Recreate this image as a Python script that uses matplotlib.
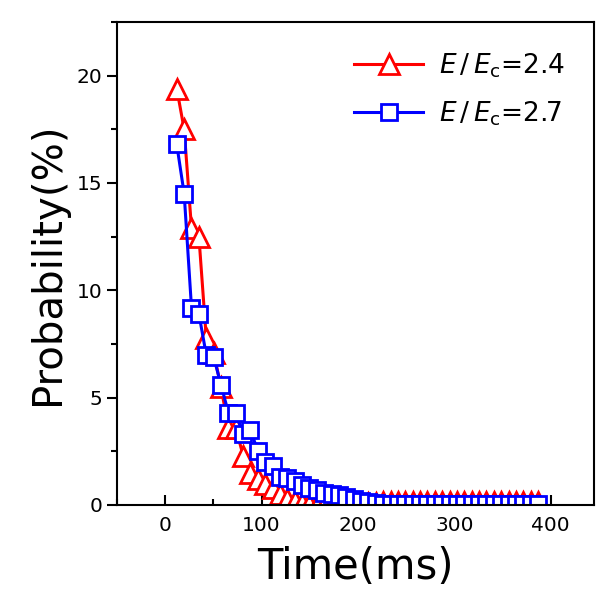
import matplotlib
matplotlib.use("Agg")
import matplotlib.pyplot as plt
from matplotlib.ticker import MultipleLocator

# time bins (ms)
times = [12.0, 19.7, 27.3, 35.0, 42.6, 50.3, 57.9, 65.6, 73.2, 80.9,
         88.5, 96.2, 103.8, 111.5, 119.1, 126.8, 134.4, 142.1, 149.7, 157.4,
         165.0, 172.7, 180.3, 188.0, 195.6, 203.3, 210.9, 218.6, 226.2, 233.9,
         241.5, 249.2, 256.8, 264.5, 272.1, 279.8, 287.4, 295.1, 302.7, 310.4,
         318.0, 325.7, 333.3, 341.0, 348.6, 356.3, 363.9, 371.6, 379.2, 386.9]

# E/Ec = 2.4
prob_24 = [19.4, 17.5, 12.9, 12.5, 7.8, 7.1, 5.5, 3.6, 3.6, 2.3,
           1.5, 1.2, 1.0, 0.8, 0.5, 0.3, 0.2, 0.1, 0.05, 0.0,
           0.0, 0.0, 0.0, 0.0, 0.05, 0.05, 0.1, 0.1, 0.15, 0.15,
           0.15, 0.15, 0.15, 0.15, 0.15, 0.15, 0.15, 0.15, 0.15, 0.15,
           0.15, 0.15, 0.15, 0.15, 0.15, 0.15, 0.15, 0.15, 0.15, 0.15]

# E/Ec = 2.7
prob_27 = [16.8, 14.5, 9.2, 8.9, 7.0, 6.9, 5.6, 4.3, 4.3, 3.3,
           3.5, 2.5, 2.0, 1.8, 1.3, 1.25, 1.1, 0.95, 0.8, 0.7,
           0.55, 0.5, 0.45, 0.35, 0.3, 0.2, 0.15, 0.1, 0.05, 0.05,
           0.05, 0.05, 0.05, 0.05, 0.05, 0.05, 0.05, 0.05, 0.05, 0.05,
           0.05, 0.05, 0.05, 0.05, 0.05, 0.05, 0.05, 0.05, 0.05, 0.05]

fig = plt.figure(figsize=(5.98, 6.03), dpi=100)
ax = fig.add_axes([117 / 598, 1 - 505 / 603, (594 - 117) / 598, (505 - 22) / 603])

ax.plot(times, prob_24, '-', color='#ff0000', lw=2.2, marker='^', ms=15,
        mfc='white', mec='#ff0000', mew=2.0, label=r'$E\,/\,E_\mathrm{c}$=2.4')
ax.plot(times, prob_27, '-', color='#0000ff', lw=2.2, marker='s', ms=12,
        mfc='white', mec='#0000ff', mew=2.0, label=r'$E\,/\,E_\mathrm{c}$=2.7')

ax.set_xlim(-50, 445)
ax.set_ylim(0, 22.5)
ax.xaxis.set_major_locator(MultipleLocator(100))
ax.xaxis.set_minor_locator(MultipleLocator(50))
ax.yaxis.set_major_locator(MultipleLocator(5))
ax.yaxis.set_minor_locator(MultipleLocator(2.5))
ax.tick_params(axis='x', which='both', direction='in', labelsize=14.5, pad=8)
ax.tick_params(axis='x', which='major', length=7, width=1.5)
ax.tick_params(axis='x', which='minor', length=4, width=1.5)
ax.tick_params(axis='y', which='both', direction='out', labelsize=14.5)
ax.tick_params(axis='y', which='major', length=7, width=1.5)
ax.tick_params(axis='y', which='minor', length=4, width=1.5)
for s in ax.spines.values():
    s.set_linewidth(1.5)

ax.set_xlabel('Time(ms)', fontsize=30, labelpad=8)
ax.set_ylabel('Probability(%)', fontsize=29, labelpad=6)

ax.legend(loc='upper right', frameon=False, fontsize=19, handlelength=2.6,
          handletextpad=0.6, labelspacing=0.75, bbox_to_anchor=(1.0, 1.0),
          borderaxespad=0.7)

fig.savefig('out.png', dpi=100)
